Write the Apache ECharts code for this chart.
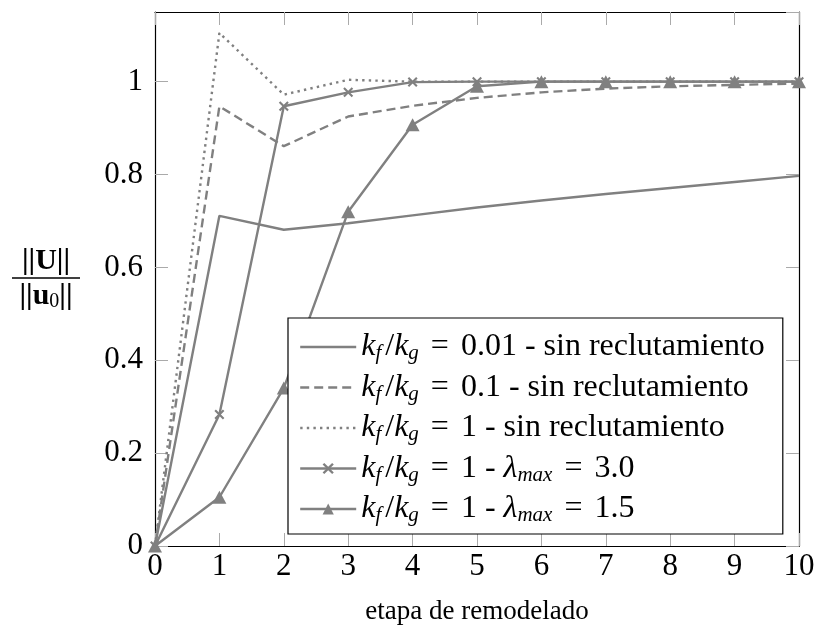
<!DOCTYPE html>
<html>
<head>
<meta charset="utf-8">
<script src="https://cdn.jsdelivr.net/npm/echarts@6/dist/echarts.min.js"></script>
<style>
  html, body { margin: 0; padding: 0; background: #fff; }
  #chart { width: 818px; height: 637px; }
</style>
</head>
<body>
<div id="chart"></div>
<script>
// Remodelling steps (x axis)
const steps = [0, 1, 2, 3, 4, 5, 6, 7, 8, 9, 10];

// ||U|| / ||u0|| for each case
const kf001NoRecruit = [0, 0.711, 0.681, 0.695, 0.712, 0.729, 0.744, 0.758, 0.771, 0.784, 0.797];
const kf01NoRecruit  = [0, 0.947, 0.861, 0.925, 0.948, 0.965, 0.977, 0.985, 0.990, 0.993, 0.996];
const kf1NoRecruit   = [0, 1.105, 0.972, 1.004, 1.000, 1.000, 1.000, 1.000, 1.000, 1.000, 1.000];
const kf1Lambda30    = [0, 0.283, 0.947, 0.977, 0.999, 1.000, 1.000, 1.000, 1.000, 1.000, 1.000];
const kf1Lambda15    = [0, 0.105, 0.340, 0.720, 0.907, 0.990, 1.000, 1.000, 1.000, 1.000, 1.000];

// Legend entries
const seriesNames = [
  'kf/kg = 0.01 - sin reclutamiento',
  'kf/kg = 0.1 - sin reclutamiento',
  'kf/kg = 1 - sin reclutamiento',
  'kf/kg = 1 - λmax = 3.0',
  'kf/kg = 1 - λmax = 1.5'
];
const ratio = '{k|k}{s|f}{g|}{t|/}{k|k}{s|g}{sp|}{t|=}{sp|}';
const legendRichText = [
  ratio + '{t|0.01 - sin reclutamiento}',
  ratio + '{t|0.1 - sin reclutamiento}',
  ratio + '{t|1 - sin reclutamiento}',
  ratio + '{t|1 - }{k|λ}{s|max}{sp|}{t|=}{sp|}{t|3.0}',
  ratio + '{t|1 - }{k|λ}{s|max}{sp|}{t|=}{sp|}{t|1.5}'
];

// Y tick values
const yTicks = [0, 0.2, 0.4, 0.6, 0.8, 1];

const SERIF = "Liberation Serif";
const GRAY = '#808080';
const crossPath = 'path://M1.5,0L5,3.5L8.5,0L10,1.5L6.5,5L10,8.5L8.5,10L5,6.5L1.5,10L0,8.5L3.5,5L0,1.5Z';

function pairs(vals) { return steps.map((x, i) => [x, vals[i]]); }

const baseLine = { color: GRAY, width: 2.4 };

const chart = echarts.init(document.getElementById('chart'), null, { renderer: 'canvas' });

const tickStyle = { inside: true, length: 13, lineStyle: { color: '#aaaaaa', width: 1 } };
const frameLine = { show: true, onZero: false, lineStyle: { color: '#000', width: 1.2 } };

chart.setOption({
  animation: false,
  backgroundColor: '#fff',
  grid: { left: 155, right: 19, top: 12, bottom: 91, containLabel: false },
  xAxis: [
    {
      type: 'value', min: 0, max: 10, interval: 1, position: 'bottom',
      axisLine: frameLine, axisTick: tickStyle,
      axisLabel: { margin: 5, fontSize: 31, fontFamily: SERIF, color: '#000' },
      splitLine: { show: false },
      name: 'etapa de remodelado', nameLocation: 'middle', nameGap: 52,
      nameTextStyle: { fontSize: 27, fontFamily: SERIF, color: '#000' }
    },
    {
      type: 'value', min: 0, max: 10, interval: 1, position: 'top',
      axisLine: frameLine, axisTick: tickStyle,
      axisLabel: { show: false }, splitLine: { show: false }
    }
  ],
  yAxis: [
    {
      type: 'value', min: 0, max: 1.15, interval: 0.2, position: 'left',
      axisLine: frameLine, axisTick: tickStyle,
      axisLabel: {
        margin: 12, fontSize: 31, fontFamily: SERIF, color: '#000',
        showMaxLabel: false,
        formatter: v => (yTicks.some(t => Math.abs(t - v) < 1e-9) ? String(+v.toFixed(1)) : '')
      },
      splitLine: { show: false },
      name: '{n|||U||}\n{bar|}\n{d|||u}{s|0}{d|||}',
      nameLocation: 'middle', nameRotate: 0, nameGap: 75,
      nameTextStyle: {
        color: '#000', fontFamily: SERIF,
        rich: {
          n: { fontSize: 30, fontFamily: SERIF, fontWeight: 'bold', lineHeight: 30, align: 'center' },
          bar: { width: 68, height: 0, borderWidth: 1, borderColor: '#000', lineHeight: 4, align: 'center' },
          d: { fontSize: 30, fontFamily: SERIF, fontWeight: 'bold', lineHeight: 32, align: 'center' },
          s: { fontSize: 20, fontFamily: SERIF, lineHeight: 20, verticalAlign: 'bottom' }
        }
      }
    },
    {
      type: 'value', min: 0, max: 1.15, interval: 0.2, position: 'right',
      axisLine: frameLine, axisTick: tickStyle,
      axisLabel: { show: false }, splitLine: { show: false }
    }
  ],
  legend: {
    orient: 'vertical',
    left: 288, top: 318,
    padding: [12, 18, 8, 11],
    itemGap: 6.5,
    itemWidth: 56, itemHeight: 14,
    backgroundColor: '#fff',
    borderColor: '#000', borderWidth: 1.2, borderRadius: 0,
    lineStyle: { width: 2.4 },
    data: [
      { name: seriesNames[0], itemStyle: { opacity: 0 } },
      { name: seriesNames[1], itemStyle: { opacity: 0 } },
      { name: seriesNames[2], itemStyle: { opacity: 0 } },
      { name: seriesNames[3] },
      { name: seriesNames[4] }
    ],
    formatter: name => legendRichText[seriesNames.indexOf(name)],
    textStyle: {
      color: '#000', fontFamily: SERIF, fontSize: 31, lineHeight: 34,
      rich: {
        k: { fontSize: 32, fontFamily: SERIF, fontStyle: 'italic', lineHeight: 34 },
        t: { fontSize: 32, fontFamily: SERIF, lineHeight: 34 },
        s: { fontSize: 21, fontFamily: SERIF, fontStyle: 'italic', lineHeight: 22, verticalAlign: 'bottom' },
        g: { width: 4, lineHeight: 34 },
        sp: { width: 12, lineHeight: 34 }
      }
    }
  },
  series: [
    {
      name: seriesNames[0], type: 'line', data: pairs(kf001NoRecruit),
      symbol: 'none', lineStyle: { ...baseLine, type: 'solid' }, itemStyle: { color: GRAY }
    },
    {
      name: seriesNames[1], type: 'line', data: pairs(kf01NoRecruit),
      symbol: 'none', lineStyle: { ...baseLine, type: [9, 5] }, itemStyle: { color: GRAY }
    },
    {
      name: seriesNames[2], type: 'line', data: pairs(kf1NoRecruit),
      symbol: 'none', lineStyle: { ...baseLine, type: [2.4, 4.2] }, itemStyle: { color: GRAY }
    },
    {
      name: seriesNames[3], type: 'line', data: pairs(kf1Lambda30),
      symbol: crossPath, symbolSize: 10, showAllSymbol: true,
      lineStyle: { ...baseLine }, itemStyle: { color: GRAY }
    },
    {
      name: seriesNames[4], type: 'line', data: pairs(kf1Lambda15),
      symbol: 'triangle', symbolSize: [14, 13], showAllSymbol: true,
      lineStyle: { ...baseLine }, itemStyle: { color: GRAY }
    }
  ]
});
</script>
</body>
</html>
